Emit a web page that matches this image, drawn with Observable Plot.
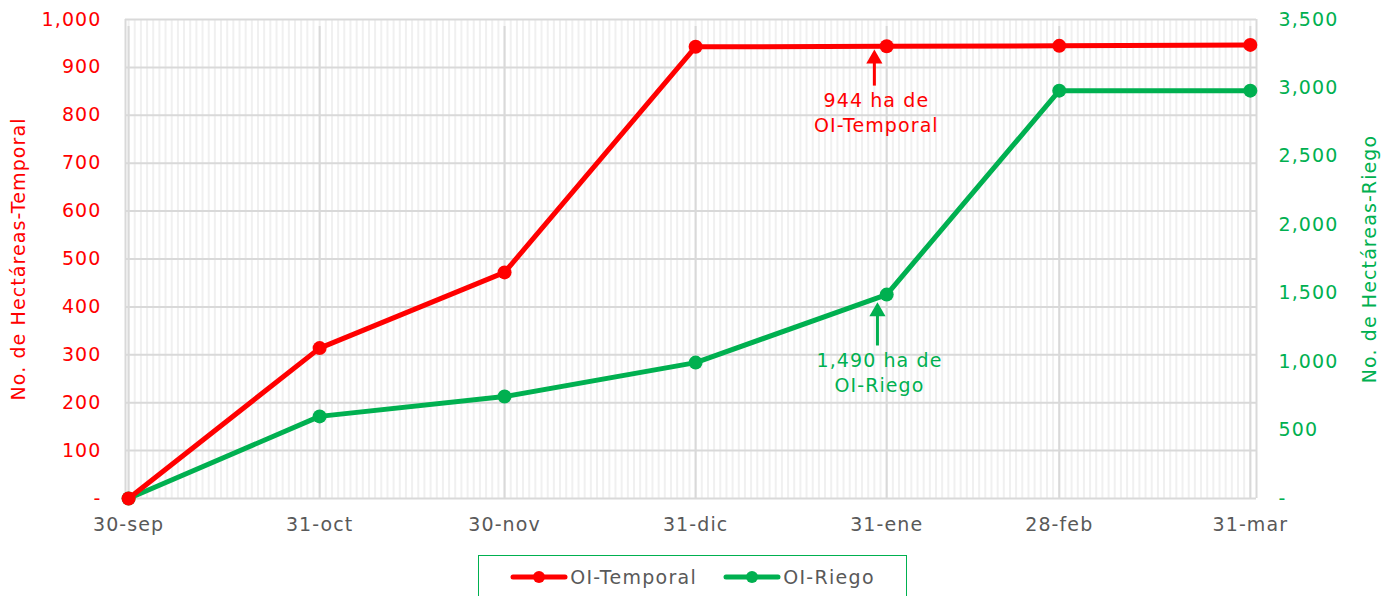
<!DOCTYPE html>
<html>
<head>
<meta charset="utf-8">
<script src="https://cdn.jsdelivr.net/npm/d3@7"></script>
<script src="https://cdn.jsdelivr.net/npm/@observablehq/plot@0.6"></script>
<style>
  body { margin: 0; background: #fff; font-family: "DejaVu Sans", sans-serif; }
  svg text { letter-spacing: 1.1px; }
  #legend { box-sizing: border-box; width: 429px; height: 44px; margin: 10px auto 0 auto; border: 1.5px solid #00b050;
    display: flex; align-items: center; justify-content: center; gap: 26px; font-size: 19px; color: #595959; letter-spacing: 1.3px; }
  .item { display: flex; align-items: center; gap: 2px; }
</style>
</head>
<body>
<div id="chart"></div>
<div id="legend"></div>
<script>
const dates = ["2022-09-30","2022-10-31","2022-11-30","2022-12-31","2023-01-31","2023-02-28","2023-03-31"];
const xLabels = ["30-sep","31-oct","30-nov","31-dic","31-ene","28-feb","31-mar"];
const temporal = [0, 314, 472, 943, 944, 945, 947];
const riego = [0, 600, 745, 993, 1490, 2980, 2980];
const leftTicks = [0,100,200,300,400,500,600,700,800,900,1000];
const rightTicks = [0,500,1000,1500,2000,2500,3000,3500];
const seriesNames = ["OI-Temporal", "OI-Riego"];
const axisTitles = ["No. de Hectáreas-Temporal", "No. de Hectáreas-Riego"];
const colors = ["#ff0000", "#00b050"];
const annotations = [
  {date: "2023-01-29", tail: 862, tip: 918, textY: 808, text: "944 ha de\nOI-Temporal", series: 0, scaled: false},
  {date: "2023-01-29", tail: 1118, tip: 1365, textY: 928, text: "1,490 ha de\nOI-Riego", series: 1, scaled: true}
];

const ratio = 1000 / 3500;
const parse = d3.utcParse("%Y-%m-%d");
const X = dates.map(parse);
const rowsT = X.map((d, i) => ({date: d, v: temporal[i]}));
const rowsR = X.map((d, i) => ({date: d, v: riego[i] * ratio}));
const domain = [d3.utcHour.offset(X[0], -12), d3.utcDay.offset(X[X.length - 1], 1)];
const days = d3.utcDay.range(domain[0], domain[1]);
const fmt = d3.format(",");
const ann = annotations.map(a => {
  const k = a.scaled ? ratio : 1;
  return {date: d3.utcHour.offset(parse(a.date), a.series === 1 ? 12 : 0), tail: a.tail * k, tip: a.tip * k, textY: a.textY * k, text: a.text, color: colors[a.series]};
});

const chart = Plot.plot({
  width: 1385,
  height: 545,
  marginTop: 19,
  marginBottom: 47,
  marginLeft: 125,
  marginRight: 129,
  style: {fontFamily: "DejaVu Sans, sans-serif", fontSize: "18px", background: "#fff"},
  x: {type: "utc", domain},
  y: {domain: [0, 1000]},
  marks: [
    Plot.ruleX(days, {x: d => d, y1: 0, y2: 1000, stroke: "#f0f0f0", strokeWidth: 2}),
    Plot.ruleX(domain, {x: d => d, y1: 0, y2: 1000, stroke: "#d9d9d9", strokeWidth: 2}),
    Plot.ruleY(leftTicks, {y: d => d, stroke: "#d9d9d9", strokeWidth: 2}),
    Plot.ruleX(X, {x: d => d, y1: 0, y2: 1000, stroke: "#d9d9d9", strokeWidth: 2, insetBottom: -7}),
    Plot.axisY(leftTicks, {anchor: "left", tickSize: 0, tickPadding: 24, fill: colors[0], fontSize: 19,
      tickFormat: d => d === 0 ? "-" : fmt(d), label: null}),
    Plot.axisY(rightTicks.map(d => d * ratio), {anchor: "right", tickSize: 0, tickPadding: 22, fill: colors[1], fontSize: 19,
      tickFormat: d => { const v = Math.round(d / ratio); return v === 0 ? "-" : fmt(v); }, label: null}),
    Plot.axisX(X, {tickSize: 0, tickPadding: 19, fill: "#595959", fontSize: 19,
      tickFormat: d => xLabels[X.findIndex(x => +x === +d)], label: null}),
    Plot.text([axisTitles[0]], {frameAnchor: "left", text: d => d, rotate: -90, dx: -107, textAnchor: "middle", fill: colors[0], fontSize: 19}),
    Plot.text([axisTitles[1]], {frameAnchor: "right", text: d => d, rotate: -90, dx: 113, textAnchor: "middle", fill: colors[1], fontSize: 19}),
    Plot.line(rowsR, {x: "date", y: "v", stroke: colors[1], strokeWidth: 5}),
    Plot.dot(rowsR, {x: "date", y: "v", fill: colors[1], r: 7}),
    Plot.line(rowsT, {x: "date", y: "v", stroke: colors[0], strokeWidth: 5}),
    Plot.dot(rowsT, {x: "date", y: "v", fill: colors[0], r: 7}),
    Plot.link(ann, {x1: "date", x2: "date", y1: "tail", y2: "tip", stroke: "color", strokeWidth: 3}),
    Plot.dot(ann, {x: "date", y: "tip", symbol: "triangle", r: 6, fill: "color", stroke: null}),
    Plot.text(ann, {x: "date", y: "textY", text: "text", fill: "color", fontSize: 19, lineHeight: 1.3, dx: 2})
  ]
});
document.getElementById("chart").appendChild(chart);

const legend = document.getElementById("legend");
seriesNames.forEach((name, i) => {
  const item = document.createElement("div");
  item.className = "item";
  item.innerHTML = `<svg width="58" height="16"><line x1="3" y1="8" x2="55" y2="8" stroke="${colors[i]}" stroke-width="5" stroke-linecap="round"/><circle cx="29" cy="8" r="6" fill="${colors[i]}"/></svg><span>${name}</span>`;
  legend.appendChild(item);
});
</script>
</body>
</html>
